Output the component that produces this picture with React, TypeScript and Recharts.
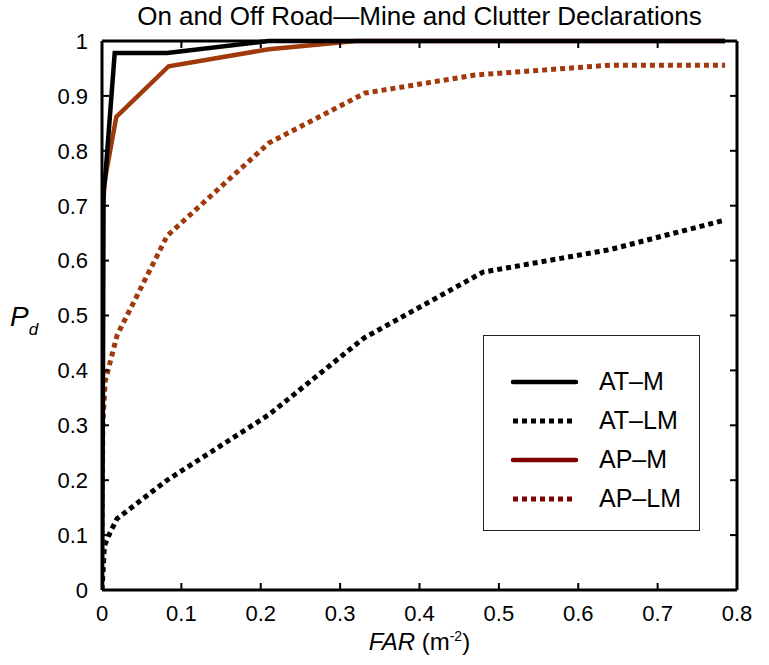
import { LineChart, Line, XAxis, YAxis } from 'recharts'

// values (FAR in m^-2, Pd)
const atM = [
  { far: 0, pd: 0 },
  { far: 0.001, pd: 0.3 },
  { far: 0.002, pd: 0.73 },
  { far: 0.004, pd: 0.75 },
  { far: 0.016, pd: 0.978 },
  { far: 0.082, pd: 0.978 },
  { far: 0.21, pd: 1 },
  { far: 0.785, pd: 1 },
]

const atLM = [
  { far: 0, pd: 0 },
  { far: 0.003, pd: 0.08 },
  { far: 0.01, pd: 0.104 },
  { far: 0.019, pd: 0.13 },
  { far: 0.082, pd: 0.2 },
  { far: 0.21, pd: 0.319 },
  { far: 0.33, pd: 0.459 },
  { far: 0.48, pd: 0.579 },
  { far: 0.64, pd: 0.62 },
  { far: 0.785, pd: 0.674 },
]

const apM = [
  { far: 0, pd: 0.05 },
  { far: 0.001, pd: 0.7 },
  { far: 0.004, pd: 0.75 },
  { far: 0.018, pd: 0.862 },
  { far: 0.084, pd: 0.954 },
  { far: 0.21, pd: 0.985 },
  { far: 0.32, pd: 1 },
  { far: 0.785, pd: 1 },
]

const apLM = [
  { far: 0, pd: 0.05 },
  { far: 0.001, pd: 0.3 },
  { far: 0.004, pd: 0.38 },
  { far: 0.019, pd: 0.464 },
  { far: 0.082, pd: 0.645 },
  { far: 0.21, pd: 0.814 },
  { far: 0.331, pd: 0.905 },
  { far: 0.47, pd: 0.938 },
  { far: 0.64, pd: 0.956 },
  { far: 0.785, pd: 0.956 },
]

const xTicks = [0, 0.1, 0.2, 0.3, 0.4, 0.5, 0.6, 0.7, 0.8]
const yTicks = [0, 0.1, 0.2, 0.3, 0.4, 0.5, 0.6, 0.7, 0.8, 0.9, 1]

const legendItems = [
  { name: 'AT–M', color: '#000', dashed: false },
  { name: 'AT–LM', color: '#000', dashed: true },
  { name: 'AP–M', color: '#800000', dashed: false },
  { name: 'AP–LM', color: '#800000', dashed: true },
]

const FONT = '"Liberation Sans", Arial, Helvetica, sans-serif'
const AP_COLOR = '#a03a0c'
const DOTS = '5 4'

const fmt = (v: number) => String(Math.round(v * 10) / 10)
const tickText = { fill: '#000', fontSize: 22, fontFamily: FONT }
const axisLine = { stroke: '#000', strokeWidth: 3 }
const tickLine = { stroke: '#000', strokeWidth: 2 }

// legend drawn as a plain overlay so it doesn't eat plot space
function LegendBox() {
  return (
    <div
      style={{
        position: 'absolute',
        left: 483,
        top: 335,
        width: 217,
        height: 196,
        border: '1.5px solid #222',
        background: '#fff',
        boxSizing: 'border-box',
        paddingTop: 26,
        fontFamily: FONT,
        fontSize: 25,
      }}
    >
      {legendItems.map(it => (
        <div key={it.name} style={{ display: 'flex', alignItems: 'center', height: 39 }}>
          <svg width={110} height={10}>
            <line
              x1={29}
              x2={92}
              y1={5}
              y2={5}
              stroke={it.color}
              strokeWidth={it.dashed ? 5 : 4.5}
              strokeDasharray={it.dashed ? DOTS : undefined}
              strokeLinecap={it.dashed ? 'butt' : 'round'}
            />
          </svg>
          <span style={{ color: '#000', marginLeft: 5 }}>{it.name}</span>
        </div>
      ))}
    </div>
  )
}

export default function App() {
  return (
    <div style={{ position: 'absolute', left: 0, top: 0, width: 769, height: 665, background: '#fff' }}>
      <LineChart width={769} height={665} margin={{ top: 40, right: 31, bottom: 0, left: 0 }}>
        <XAxis
          xAxisId="b"
          dataKey="far"
          type="number"
          domain={[0, 0.8]}
          ticks={xTicks}
          tickFormatter={fmt}
          tick={tickText}
          tickSize={-7}
          tickMargin={22}
          axisLine={axisLine}
          tickLine={tickLine}
          height={75}
          allowDataOverflow
        />
        <XAxis
          xAxisId="t"
          orientation="top"
          dataKey="far"
          type="number"
          domain={[0, 0.8]}
          ticks={xTicks}
          tickFormatter={() => ''}
          tickSize={-7}
          axisLine={axisLine}
          tickLine={tickLine}
          height={1}
        />
        <YAxis
          yAxisId="l"
          dataKey="pd"
          type="number"
          domain={[0, 1]}
          ticks={yTicks}
          tickFormatter={fmt}
          tick={tickText}
          tickSize={-7}
          tickMargin={21}
          axisLine={axisLine}
          tickLine={tickLine}
          width={102}
        />
        <YAxis
          yAxisId="r"
          orientation="right"
          dataKey="pd"
          type="number"
          domain={[0, 1]}
          ticks={yTicks}
          tickFormatter={() => ''}
          tickSize={-7}
          axisLine={axisLine}
          tickLine={tickLine}
          width={1}
        />
        {/* invisible copy bound to the top/right axes so they get drawn (box frame) */}
        <Line
          xAxisId="t"
          yAxisId="r"
          data={atM}
          dataKey="pd"
          stroke="none"
          strokeWidth={0}
          dot={false}
          activeDot={false}
          isAnimationActive={false}
        />
        <Line
          xAxisId="b"
          yAxisId="l"
          data={atLM}
          dataKey="pd"
          name="AT–LM"
          stroke="#000"
          strokeWidth={5}
          strokeDasharray={DOTS}
          dot={false}
          isAnimationActive={false}
        />
        <Line
          xAxisId="b"
          yAxisId="l"
          data={apLM}
          dataKey="pd"
          name="AP–LM"
          stroke={AP_COLOR}
          strokeWidth={5}
          strokeDasharray={DOTS}
          dot={false}
          isAnimationActive={false}
        />
        <Line
          xAxisId="b"
          yAxisId="l"
          data={apM}
          dataKey="pd"
          name="AP–M"
          stroke={AP_COLOR}
          strokeWidth={4.5}
          dot={false}
          isAnimationActive={false}
        />
        <Line
          xAxisId="b"
          yAxisId="l"
          data={atM}
          dataKey="pd"
          name="AT–M"
          stroke="#000"
          strokeWidth={4.5}
          dot={false}
          isAnimationActive={false}
        />
      </LineChart>
      <div
        style={{
          position: 'absolute',
          top: 1,
          left: 102,
          width: 635,
          textAlign: 'center',
          fontFamily: FONT,
          fontSize: 26,
          color: '#000',
        }}
      >
        On and Off Road—Mine and Clutter Declarations
      </div>
      <div
        style={{
          position: 'absolute',
          left: 10,
          top: 301,
          fontFamily: FONT,
          fontSize: 28,
          lineHeight: '32px',
          color: '#000',
          whiteSpace: 'nowrap',
        }}
      >
        <i>P</i>
        <span style={{ fontSize: 17, position: 'relative', top: 9 }}>
          <i>d</i>
        </span>
      </div>
      <div
        style={{
          position: 'absolute',
          top: 628,
          left: 102,
          width: 635,
          textAlign: 'center',
          fontFamily: FONT,
          fontSize: 24,
          lineHeight: '28px',
          color: '#000',
        }}
      >
        <i>FAR</i> (m<span style={{ fontSize: 14, position: 'relative', top: -9 }}>-2</span>)
      </div>
      <LegendBox />
    </div>
  )
}
